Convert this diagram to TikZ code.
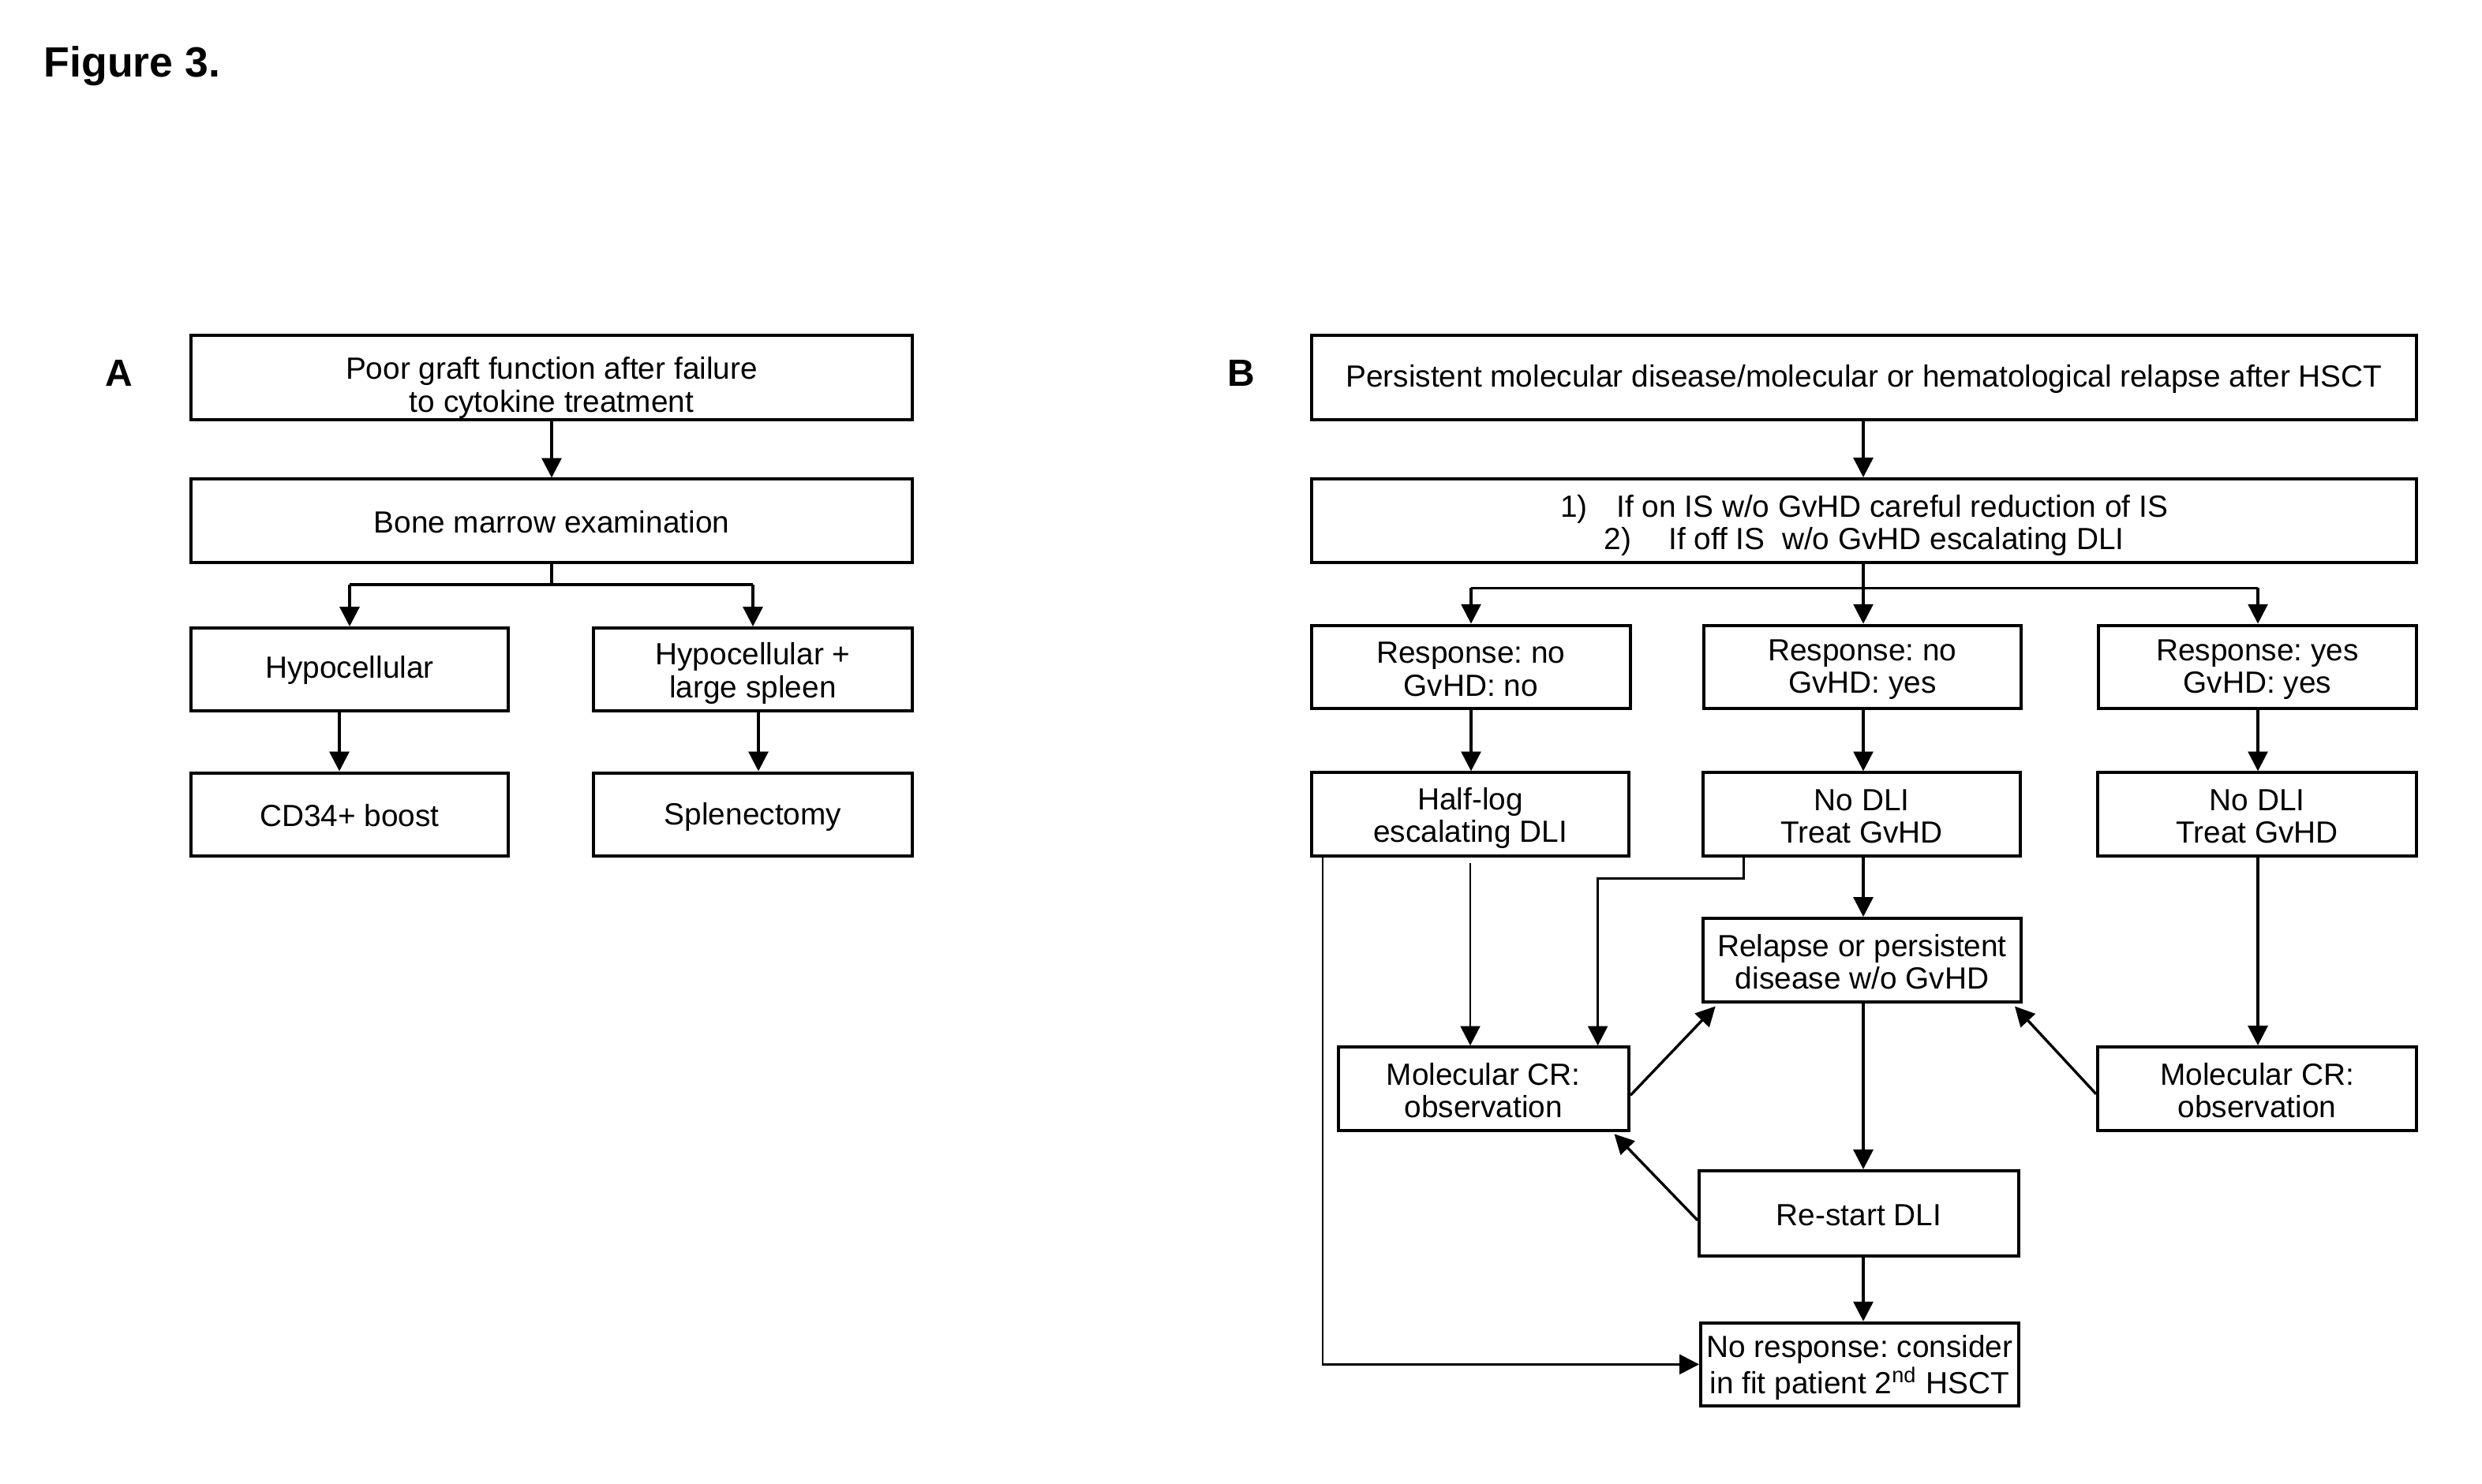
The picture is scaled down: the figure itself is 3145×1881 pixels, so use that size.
\documentclass[tikz,border=0pt]{standalone}
\usepackage{fontspec}
\setmainfont{Liberation Sans}
\usetikzlibrary{arrows.meta}
\frenchspacing
\newcommand\bx[7][3]{%
  \node[box, minimum width={0.25pt*(#5-#3)}, minimum height={0.25pt*(#6-#4)}] (#2) at ({(#3+#5)/2},{(#4+#6)/2}) {};
  \node[boxtext] (#2t) at ([yshift={-0.25pt*#1}]#2.center) {#7};}
\begin{document}
\begin{tikzpicture}[x=0.25pt,y=-0.25pt,
  box/.style={draw, line width=1pt, inner sep=0pt},
  boxtext/.style={inner sep=0pt, align=center, font=\fontsize{9.7pt}{10.3pt}\selectfont\frenchspacing},
  conn/.style={line width=0.85pt, -{Triangle[length=6.2pt,width=6.2pt]}},
  thinconn/.style={conn, line width=0.7pt},
  plain/.style={line width=0.85pt},
  lbl/.style={font=\fontsize{12pt}{14pt}\selectfont\bfseries, anchor=base, inner sep=0pt}]
\useasboundingbox[fill=white] (0,0) rectangle (3145,1881);

% titles
\node[font=\fontsize{13.4pt}{15pt}\selectfont\bfseries, anchor=base west, inner sep=0pt] (fig) at (55,97.7) {Figure 3.};
\node[lbl] (la) at (151,489.5) {A};
\node[lbl] (lb) at (1573,489.5) {B};

% Panel A
\bx[13]{a1}{242}{425}{1156}{532}{Poor graft function after failure\\to cytokine treatment}
\bx[1]{a2}{242}{607.5}{1156}{713}{Bone marrow examination}
\bx[1]{a3}{242}{796}{644}{901}{Hypocellular}
\bx[5]{a4}{752}{796}{1156}{901}{Hypocellular +\\large spleen}
\bx[1]{a5}{242}{979.5}{644}{1085}{CD34+ boost}
\bx[3]{a6}{752}{979.5}{1156}{1085}{Splenectomy}

\draw[conn] (a1.south) -- (a2.north);
\draw[plain] (a2.south) -- (699,741);
\draw[plain] (443,741) -- (954,741);
\draw[conn] (443,741) -- (a3.north);
\draw[conn] (954,741) -- (a4.north);
\draw[conn] (430,0 |- a3.south) -- (430,0 |- a5.north);
\draw[conn] (961,0 |- a4.south) -- (961,0 |- a6.north);

% Panel B
\bx[2]{b1}{1662}{425}{3062}{532}{Persistent molecular disease/molecular or hematological relapse after HSCT}
\bx[6]{b2}{1662}{607}{3062}{713.5}{1)\hspace{9.2pt}If on IS w/o GvHD careful reduction of IS\\2)\hspace{11.8pt}If off IS\ \ w/o GvHD escalating DLI}
\bx{c1}{1662}{792.6}{2065.5}{898.2}{Response: no\\GvHD: no}
\bx{c2}{2159}{792.6}{2560.5}{898.2}{Response: no\\GvHD: yes}
\bx{c3}{2659}{792.6}{3062}{898.2}{Response: yes\\GvHD: yes}
\bx[5]{d1}{1662}{979.4}{2064}{1085}{Half-log\\escalating DLI}
\bx[3]{d2}{2158}{979.4}{2560.4}{1085}{No DLI\\Treat GvHD}
\bx[3]{d3}{2658}{979.4}{3062}{1085}{No DLI\\Treat GvHD}
\bx[2]{f}{2158}{1164}{2561}{1270}{Relapse or persistent\\disease w/o GvHD}
\bx[2]{e1}{1695.5}{1327.3}{2064}{1433.3}{Molecular CR:\\observation}
\bx[2]{e3}{2658}{1327}{3062}{1433}{Molecular CR:\\observation}
\bx[2]{r}{2153}{1484}{2557.7}{1591.7}{Re-start DLI}
\bx[4]{n}{2155}{1676.7}{2557.5}{1782}{No response: consider\\in fit patient 2\textsuperscript{nd} HSCT}

\draw[conn] (2361,0 |- b1.south) -- (2361,0 |- b2.north);
\draw[plain] (2361,0 |- b2.south) -- (2361,745.3);
\draw[plain] (1864,745.3) -- (2861,745.3);
\draw[conn] (1864,745.3) -- (1864,0 |- c1.north);
\draw[conn] (2361,745.3) -- (2361,0 |- c2.north);
\draw[conn] (2861,745.3) -- (2861,0 |- c3.north);

\draw[conn] (1864,0 |- c1.south) -- (1864,0 |- d1.north);
\draw[conn] (2361,0 |- c2.south) -- (2361,0 |- d2.north);
\draw[conn] (2861,0 |- c3.south) -- (2861,0 |- d3.north);

\draw[thinconn] (1676,0 |- d1.south) -- (1676,0 |- n.west) -- (n.west);
\draw[thinconn, shorten <=1.75pt] (1863,0 |- d1.south) -- (1863,0 |- e1.north);
\draw[conn] (2209.5,0 |- d2.south) -- (2209.5,1113.3) -- (2024.6,1113.3) -- (2024.6,0 |- e1.north);
\draw[conn] (2361,0 |- d2.south) -- (2361,0 |- f.north);
\draw[conn] (2861,0 |- d3.south) -- (2861,0 |- e3.north);

\draw[conn, shorten >=1.2pt] (e1.east |- 0,1388.3) -- (2177,0 |- f.south);
\draw[conn, shorten >=1.2pt] (e3.west |- 0,1386.7) -- (2549.7,0 |- f.south);
\draw[conn] (2361,0 |- f.south) -- (2361,0 |- r.north);
\draw[conn, shorten >=0.7pt] (r.west |- 0,1546.7) -- (2043.5,0 |- e1.south);
\draw[conn] (2361,0 |- r.south) -- (2361,0 |- n.north);
\end{tikzpicture}
\end{document}
